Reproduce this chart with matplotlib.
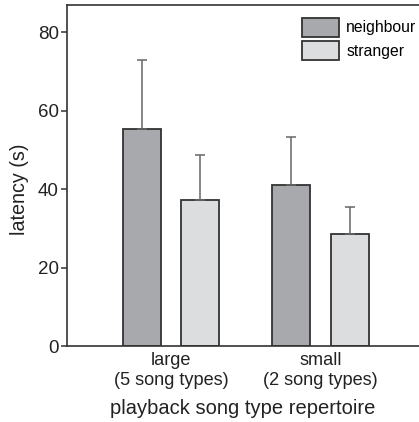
import matplotlib
matplotlib.use("Agg")
import matplotlib.pyplot as plt
import numpy as np
from matplotlib.patches import Patch

plt.rcParams['font.family'] = ['Liberation Sans', 'DejaVu Sans']

groups = ["large\n(5 song types)", "small\n(2 song types)"]
series = ["neighbour", "stranger"]
neighbour = [55.4, 41.1]
neighbour_err = [17.5, 12.1]
stranger = [37.3, 28.6]
stranger_err = [11.3, 6.9]
yticks = [0, 20, 40, 60, 80]

fig = plt.figure(figsize=(4.19, 4.22), dpi=100)
ax = fig.add_axes([0.16, 0.18, 0.84, 0.808])

x = np.arange(len(groups))
w = 0.254
off = 0.196
edge = '#333333'
ekw = dict(ecolor='#666666', elinewidth=1.1, capsize=3.3, capthick=1.1)
ax.bar(x - off, neighbour, w, color='#a8a9ac', edgecolor=edge, linewidth=1.3,
       yerr=[np.zeros(2), neighbour_err], error_kw=ekw, label=series[0], zorder=2)
ax.bar(x + off, stranger, w, color='#dcdddf', edgecolor=edge, linewidth=1.3,
       yerr=[np.zeros(2), stranger_err], error_kw=ekw, label=series[1], zorder=2)

ax.set_xlim(-0.696, 1.659)
ax.set_ylim(0, 86.9)
ax.set_yticks(yticks)
ax.set_xticks(x)
ax.set_xticklabels(groups, fontsize=13.1, color='#222222', linespacing=1.27)
ax.tick_params(axis='x', length=0, pad=4)
ax.tick_params(axis='y', length=4, width=1.1, color=edge, labelsize=13.5,
               labelcolor='#222222', pad=2)
for s in ['top', 'left', 'bottom']:
    ax.spines[s].set_color(edge)
    ax.spines[s].set_linewidth(1.2)
ax.spines['right'].set_visible(False)

ax.set_ylabel("latency (s)", fontsize=14.2, color='#222222')
ax.yaxis.set_label_coords(-0.109, 0.46)
ax.set_xlabel("playback song type repertoire", fontsize=14.5, color='#222222', labelpad=7)

handles = [Patch(facecolor='#a8a9ac', edgecolor=edge, linewidth=1.3),
           Patch(facecolor='#dcdddf', edgecolor=edge, linewidth=1.3)]
ax.legend(handles, series, loc='upper right', bbox_to_anchor=(1.02, 0.99),
          frameon=False, fontsize=11.3, handlelength=2.4, handleheight=1.45,
          handletextpad=0.45, labelspacing=0.3, borderaxespad=0.2)

fig.savefig("out.png", dpi=100)
